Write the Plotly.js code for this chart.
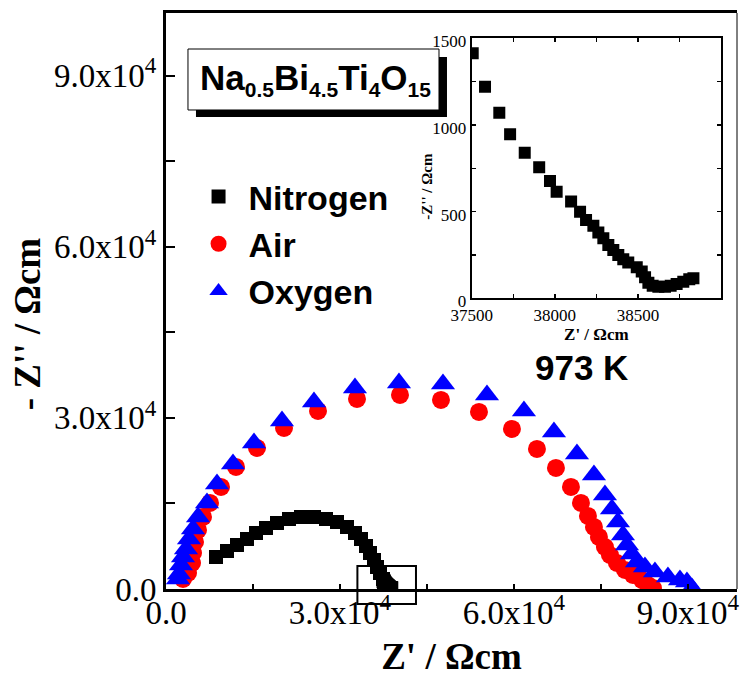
<!DOCTYPE html>
<html>
<head>
<meta charset="utf-8">
<script src="https://cdn.plot.ly/plotly-3.0.1.min.js"></script>
<style>html,body{margin:0;padding:0;background:#fff;}#chart{width:742px;height:677px;}</style>
</head>
<body>
<div id="chart"></div>
<script>
// ---- data ----
var n2X = [8620, 10516, 12240, 13964, 15516, 17240, 19137, 21206, 23274, 25515, 27584, 29480, 31204, 32584, 33618, 34480, 35170, 35859, 36376, 36894, 37411];
var n2Y = [5613, 6665, 7718, 8770, 9822, 10699, 11576, 12278, 12629, 12629, 12278, 11752, 10875, 9822, 8770, 7542, 6314, 5087, 3859, 2806, 1754];

var insetX = [37506, 37580, 37666, 37731, 37819, 37906, 37971, 38011, 38098, 38152, 38188, 38232, 38262, 38292, 38322, 38352, 38382, 38412, 38442, 38493, 38523, 38543, 38563, 38589, 38623, 38663, 38697, 38733, 38773, 38809, 38834];
var insetY = [1413, 1221, 1071, 946, 840, 756, 677, 615, 558, 500, 452, 419, 379, 346, 308, 279, 250, 225, 206, 179, 154, 121, 90, 73, 67, 67, 73, 83, 96, 110, 115];

var airX = [2931, 3793, 4482, 4655, 5000, 5517, 6379, 7586, 9482, 12068, 15688, 20343, 26205, 32928, 40342, 47410, 53961, 59650, 63960, 67236, 69822, 71546, 72753, 73787, 74649, 75684, 76546, 77752, 79132, 80511, 82062, 83097, 83960];
var airY = [1754, 2806, 4560, 6314, 8244, 10349, 12629, 15084, 17891, 21399, 24731, 28239, 31221, 33326, 34028, 33151, 31046, 28064, 24556, 21223, 17891, 15084, 12804, 10875, 9121, 7367, 5964, 4560, 3333, 2456, 1579, 702, 175];

var oxyX = [2069, 2241, 2586, 2931, 3448, 3965, 4655, 5517, 7068, 8792, 11551, 15171, 19998, 25515, 32584, 40169, 47755, 55340, 61719, 66891, 70856, 73787, 75684, 76891, 77925, 78787, 79476, 80338, 81200, 82580, 84304, 86545, 88614, 89821, 90683];
var oxyY = [1754, 2631, 4210, 5613, 7016, 8770, 10524, 12629, 15084, 18417, 21925, 25608, 29467, 32800, 35255, 36132, 35957, 34028, 31221, 27538, 23679, 19996, 16488, 14032, 11752, 9472, 7718, 6139, 4736, 3859, 2982, 2105, 1579, 1228, 175];

var mainTickVals = [0, 30000, 60000, 90000];
var mainTickText = ['0.0', '3.0x10<sup>4</sup>', '6.0x10<sup>4</sup>', '9.0x10<sup>4</sup>'];
var mainMinorVals = [15000, 45000, 75000];
var insetXTicks = [37500, 38000, 38500, 39000];
var insetXText = ['37500', '38000', '38500', '39000'];
var insetYTicks = [0, 500, 1000, 1500];
var insetYText = ['0', '500', '1000', '1500'];
var seriesNames = ['Nitrogen', 'Air', 'Oxygen'];

// ---- traces ----
var serif = 'Liberation Serif, Times New Roman, serif';
var sans = 'Liberation Sans, Arial, sans-serif';

var traces = [
  {x: n2X.concat(insetX), y: n2Y.concat(insetY), name: seriesNames[0], type: 'scatter', mode: 'markers',
   marker: {symbol: 'square', size: 14, color: '#000000', line: {width: 0}}, xaxis: 'x', yaxis: 'y'},
  {x: airX, y: airY, name: seriesNames[1], type: 'scatter', mode: 'markers',
   marker: {symbol: 'circle', size: 18, color: '#ff0000', line: {width: 0}}, xaxis: 'x', yaxis: 'y'},
  {x: oxyX, y: oxyY, name: seriesNames[2], type: 'scatter', mode: 'markers',
   marker: {symbol: 'triangle-up', size: 21, color: '#0000ff', line: {width: 0}}, xaxis: 'x', yaxis: 'y'},
  {x: insetX, y: insetY, name: seriesNames[0] + ' (inset)', type: 'scatter', mode: 'markers', showlegend: false,
   marker: {symbol: 'square', size: 12, color: '#000000', line: {width: 0}}, xaxis: 'x2', yaxis: 'y2'}
];

var layout = {
  width: 742, height: 677,
  margin: {l: 166, r: 5, t: 13, b: 88, pad: 0},
  paper_bgcolor: '#ffffff', plot_bgcolor: 'rgba(0,0,0,0)',
  showlegend: true,
  legend: {x: 0.0395, y: 0.731, xanchor: 'left', yanchor: 'top', bgcolor: 'rgba(0,0,0,0)',
           font: {family: sans, size: 34, color: '#000', weight: 'bold'}, itemwidth: 50, tracegroupgap: 0},
  xaxis: {range: [0, 98450], showgrid: false, zeroline: false, showline: true, linewidth: 3, linecolor: '#000', mirror: true,
          tickmode: 'array', tickvals: mainTickVals, ticktext: mainTickText,
          ticks: 'inside', ticklen: 5, tickwidth: 2, tickcolor: '#000',
          minor: {tickmode: 'array', tickvals: mainMinorVals, ticks: 'inside', ticklen: 5, tickwidth: 2, tickcolor: '#000'},
          tickfont: {family: serif, size: 33, color: '#000'}, ticklabelstandoff: -8,
          title: {text: "Z' / \u03A9cm", font: {family: serif, size: 37, color: '#000', weight: 'bold'}, standoff: 18}},
  yaxis: {range: [0, 101000], showgrid: false, zeroline: false, showline: true, linewidth: 3, linecolor: '#000', mirror: false,
          tickmode: 'array', tickvals: mainTickVals, ticktext: mainTickText,
          ticks: 'inside', ticklen: 9, tickwidth: 2, tickcolor: '#000',
          minor: {tickmode: 'array', tickvals: mainMinorVals, ticks: 'inside', ticklen: 9, tickwidth: 2, tickcolor: '#000'},
          tickfont: {family: serif, size: 33, color: '#000'}},
  xaxis2: {domain: [0.5354, 0.9720], anchor: 'y2', range: [37500, 39000], showgrid: false, zeroline: false,
           showline: true, linewidth: 2, linecolor: '#000', mirror: 'allticks',
           tickmode: 'array', tickvals: insetXTicks, ticktext: insetXText, ticks: 'inside', ticklen: 4, tickwidth: 1.5, tickcolor: '#000',
           minor: {dtick: 250, ticks: 'inside', ticklen: 4, tickwidth: 1.5, tickcolor: '#000'},
           tickfont: {family: serif, size: 17, color: '#000'}, ticklabelstandoff: 0,
           title: {text: "Z' / \u03A9cm", font: {family: serif, size: 17, color: '#000', weight: 'bold'}, standoff: 2}},
  yaxis2: {domain: [0.5047, 0.9561], anchor: 'x2', range: [0, 1500], showgrid: false, zeroline: false,
           showline: true, linewidth: 2, linecolor: '#000', mirror: 'allticks',
           tickmode: 'array', tickvals: insetYTicks, ticktext: insetYText, ticks: 'inside', ticklen: 4, tickwidth: 1.5, tickcolor: '#000',
           minor: {dtick: 250, ticks: 'inside', ticklen: 4, tickwidth: 1.5, tickcolor: '#000'},
           tickfont: {family: serif, size: 17, color: '#000'}, ticklabelstandoff: 0, ticklabelshift: 3},
  shapes: [
    // thin right frame of main plot
    {type: 'line', xref: 'paper', yref: 'paper', x0: 1, x1: 1, y0: 0, y1: 1, line: {color: '#000', width: 1}},
    // zoom-region box
    {type: 'rect', xref: 'x', yref: 'paper', x0: 33000, x1: 43100, y0: -0.026, y1: 0.0399, line: {color: '#000', width: 2}},
    // formula box shadow + box
    {type: 'rect', xref: 'paper', yref: 'paper', x0: 0.0525, x1: 0.4921, y0: 0.8194, y1: 0.9236, fillcolor: '#000', line: {width: 0}},
    {type: 'rect', xref: 'paper', yref: 'paper', x0: 0.0385, x1: 0.4781, y0: 0.8316, y1: 0.9375, fillcolor: '#fff', line: {color: '#000', width: 1}}
  ],
  annotations: [
    {xref: 'paper', yref: 'paper', x: 0.262, y: 0.885, showarrow: false, xanchor: 'center', yanchor: 'middle',
     text: '<b>Na<sub><span style="font-size:21px">0.5</span></sub>Bi<sub><span style="font-size:21px">4.5</span></sub>Ti<sub><span style="font-size:21px">4</span></sub>O<sub><span style="font-size:21px">15</span></sub></b>',
     font: {family: sans, size: 35, color: '#000'}},
    {xref: 'paper', yref: 'paper', x: 0.7268, y: 0.3837, showarrow: false, xanchor: 'center', yanchor: 'middle',
     text: '<b>973 K</b>', font: {family: sans, size: 35, color: '#000'}},
    {xref: 'paper', yref: 'paper', x: -0.243, y: 0.46, showarrow: false, xanchor: 'center', yanchor: 'middle', textangle: -90,
     text: "<b>- Z'' / \u03A9cm</b>", font: {family: serif, size: 37, color: '#000'}},
    {xref: 'paper', yref: 'paper', x: 0.457, y: 0.7, showarrow: false, xanchor: 'center', yanchor: 'middle', textangle: -90,
     text: "<b>-Z'' / \u03A9cm</b>", font: {family: serif, size: 15, color: '#000'}}
  ]
};

Plotly.newPlot('chart', traces, layout, {displayModeBar: false, staticPlot: true});
</script>
</body>
</html>
